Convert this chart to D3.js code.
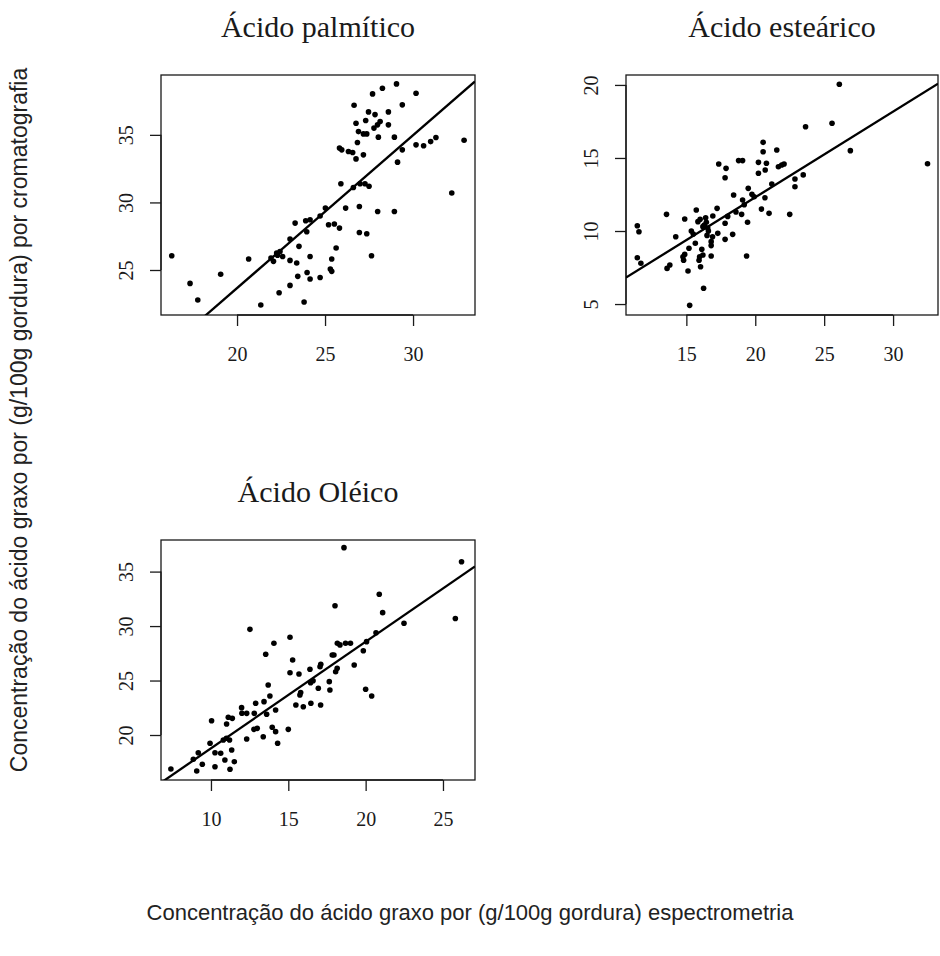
<!DOCTYPE html>
<html><head><meta charset="utf-8">
<script src="https://cdn.jsdelivr.net/npm/d3@7/dist/d3.min.js"></script>
<style>body{margin:0;background:#fff}svg{display:block}</style>
</head><body>
<script>
// ---------- data ----------
const titles = ["Ácido palmítico", "Ácido esteárico", "Ácido Oléico"];
const yLabel = "Concentração do ácido graxo por (g/100g gordura) por cromatografia";
const xLabel = "Concentração do ácido graxo por (g/100g gordura) espectrometria";

const palmiticPoints = [
 [16.29,26.06],[17.33,24.01],[17.77,22.78],[19.07,24.68],[20.66,25.81],[21.35,22.41],[22.39,23.32],
 [21.93,25.89],[22.07,25.64],[22.25,26.26],[22.44,26.37],[22.59,26.0],[22.3,26.1],[23.01,25.71],[23.01,27.29],
 [23.3,28.47],[23.39,25.52],[23.52,26.75],[23.45,24.53],[23.01,23.86],[23.81,22.63],[23.98,24.82],
 [24.15,24.33],[24.15,26.0],[23.96,27.83],[23.9,28.64],[24.15,28.72],[24.72,24.45],[24.72,29.0],
 [25.02,29.58],[25.2,28.35],[25.3,25.07],[25.38,24.9],[25.38,25.81],[25.53,28.4],[25.63,26.63],
 [25.82,28.1],[25.9,31.38],[25.82,34.02],[25.95,33.89],[26.17,29.58],[26.33,33.77],[26.57,33.69],
 [26.76,33.22],[26.65,37.19],[26.76,35.86],[26.9,35.24],[26.84,34.43],[26.95,29.7],[26.95,27.78],
 [26.99,31.38],[27.27,31.38],[27.5,31.2],[26.61,31.1],[27.18,33.52],[27.31,36.06],[27.18,35.07],[27.37,35.07],
 [27.37,27.68],[27.47,36.7],[27.64,26.06],[27.7,38.03],[27.84,36.5],[27.78,35.5],[27.98,35.74],
 [28.13,35.98],[28.03,34.83],[28.26,38.45],[27.99,29.33],[28.94,29.33],[28.6,36.7],[28.6,35.74],
 [28.94,34.83],[29.06,38.77],[29.12,32.98],[29.39,37.22],[29.39,33.89],[30.17,38.08],[30.17,34.26],
 [30.6,34.2],[31.0,34.5],[31.3,34.8],[32.2,30.7],[32.9,34.6]
];
const stearicPoints = [
 [11.44,10.36],[11.56,9.95],[11.44,8.17],[11.7,7.79],[13.56,11.14],[13.6,7.44],[13.8,7.67],[14.23,9.61],
 [14.88,10.82],[14.75,8.24],[14.88,8.4],[14.8,8.0],[15.19,8.82],[15.12,7.26],[15.24,4.91],[15.36,10.0],
 [15.5,9.8],[15.72,11.44],[15.65,9.16],[15.84,10.64],[15.96,8.24],[15.92,8.0],[16.03,7.55],[16.12,8.75],
 [16.2,8.36],[16.0,10.8],[16.2,10.3],[16.3,10.4],[16.25,6.08],[16.4,10.9],[16.5,9.7],[16.55,10.2],
 [16.6,10.0],[16.45,10.6],[16.8,9.27],[16.8,9.0],[16.9,9.6],[16.92,11.03],[16.8,8.29],[17.23,11.55],
 [17.28,9.84],[17.35,14.59],[17.81,10.53],[17.81,13.65],[17.88,14.29],[17.81,9.43],[18.0,11.0],[18.36,9.77],
 [18.43,12.47],[18.6,11.3],[18.79,14.82],[19.08,14.82],[19.01,11.14],[19.08,12.12],[19.2,11.8],[19.37,8.29],
 [19.44,10.6],[19.49,12.92],[19.76,12.51],[19.92,12.35],[20.23,14.7],[20.23,13.95],[20.45,11.5],
 [20.57,16.07],[20.57,15.43],[20.72,14.18],[20.81,14.64],[20.7,12.28],[21.0,11.21],[21.2,13.22],
 [21.56,15.55],[21.68,14.4],[21.92,14.52],[22.09,14.59],[22.5,11.14],[22.88,13.56],[22.88,13.03],
 [23.48,13.84],[23.65,17.14],[25.57,17.38],[26.1,20.05],[26.9,15.5],[32.5,14.6]
];
const oleicPoints = [
 [7.41,16.88],[9.08,16.69],[9.18,18.37],[9.44,17.31],[8.86,17.77],[10.04,21.31],[9.94,19.24],[10.26,17.09],
 [10.26,18.37],[10.63,18.32],[10.9,17.7],[11.01,21.01],[11.12,21.63],[11.38,21.53],[10.8,19.54],[11.0,19.7],
 [11.2,19.54],[11.34,18.62],[11.23,16.85],[11.51,17.55],[11.98,22.51],[12.31,21.99],[12.0,22.0],[12.31,19.63],
 [12.52,29.7],[12.8,21.99],[12.89,22.91],[12.78,20.52],[12.99,20.61],[13.38,19.84],[13.43,23.06],[13.54,27.41],
 [13.6,21.9],[13.7,24.59],[13.81,23.58],[13.96,20.71],[14.07,28.42],[14.18,22.3],[14.18,20.31],[14.31,19.24],
 [15.0,20.52],[15.11,28.97],[15.11,25.72],[15.28,26.89],[15.49,22.75],[15.69,25.6],[15.75,23.67],[15.8,23.9],
 [15.97,22.6],[16.4,26.03],[16.46,22.91],[16.44,24.8],[16.6,24.98],[16.94,24.29],[17.05,26.27],[17.1,26.5],
 [17.09,22.75],[17.65,24.9],[17.69,24.13],[17.84,27.35],[17.95,27.35],[18.02,31.87],[18.06,25.81],[18.16,26.12],
 [18.17,28.42],[18.34,28.27],[18.7,28.42],[19.02,28.42],[19.26,26.43],[19.85,27.74],[20.0,24.2],[20.06,28.57],
 [20.39,23.58],[20.67,29.39],[20.88,32.92],[21.1,31.23],[22.48,30.26],[18.6,37.2],[25.8,30.7],[26.2,35.9]
];
// fitted lines: [intercept, slope]
const palmiticFit = [1.04, 1.131];
const stearicFit  = [0.59, 0.586];
const oleicFit    = [9.0, 0.978];

const palmiticXTicks = [20,25,30], palmiticYTicks = [25,30,35];
const stearicXTicks  = [15,20,25,30], stearicYTicks = [5,10,15,20];
const oleicXTicks    = [10,15,20,25], oleicYTicks = [20,25,30,35];

const palmiticDomain = {x:[15.68,33.52], y:[21.67,39.43]};
const stearicDomain  = {x:[10.62,33.26], y:[4.25,20.68]};
const oleicDomain    = {x:[6.77,27.07], y:[15.87,37.9]};

// ---------- layout ----------
const W = 940, H = 956;
const panels = [
  {title:titles[0], pts:palmiticPoints, fit:palmiticFit, xt:palmiticXTicks, yt:palmiticYTicks, dom:palmiticDomain, box:[161,75,475,315]},
  {title:titles[1], pts:stearicPoints,  fit:stearicFit,  xt:stearicXTicks,  yt:stearicYTicks,  dom:stearicDomain,  box:[626,75,938,315]},
  {title:titles[2], pts:oleicPoints,    fit:oleicFit,    xt:oleicXTicks,    yt:oleicYTicks,    dom:oleicDomain,    box:[161,540,475,780]}
];

const svg = d3.select("body").append("svg").attr("width", W).attr("height", H);
const serif = "'Liberation Serif','Times New Roman',serif";
const sans = "'Liberation Sans',Arial,sans-serif";
const ink = "#1a1a1a";

panels.forEach((p, i) => {
  const [x0,y0,x1,y1] = p.box;
  const x = d3.scaleLinear().domain(p.dom.x).range([x0,x1]);
  const y = d3.scaleLinear().domain(p.dom.y).range([y1,y0]);
  const g = svg.append("g");

  const clipId = "clip"+i;
  g.append("clipPath").attr("id", clipId).append("rect")
    .attr("x", x0).attr("y", y0).attr("width", x1-x0).attr("height", y1-y0);

  // axes (R style: axis line spans ticks only)
  const xa = d3.axisBottom(x).tickValues(p.xt).tickSize(11).tickPadding(21).tickFormat(d3.format("d"));
  const gx = g.append("g").attr("transform", `translate(0,${y1})`).call(xa);
  gx.select(".domain").attr("d", `M${x(p.xt[0])},0H${x(p.xt[p.xt.length-1])}`);
  const ya = d3.axisLeft(y).tickValues(p.yt).tickSize(11).tickPadding(10).tickFormat(d3.format("d"));
  const gy = g.append("g").attr("transform", `translate(${x0},0)`).call(ya);
  gy.select(".domain").attr("d", `M0,${y(p.yt[0])}V${y(p.yt[p.yt.length-1])}`);
  [gx, gy].forEach(a => {
    a.selectAll(".domain, .tick line").attr("stroke", ink).attr("stroke-width", 1.3);
    a.selectAll("text").attr("font-family", serif).attr("font-size", 20).attr("fill", ink);
  });
  gy.selectAll("text").attr("text-anchor", "middle").attr("dy", 0)
    .attr("x", 0).attr("y", 0)
    .attr("transform", "translate(-28,0) rotate(-90)");

  // box
  g.append("rect").attr("x", x0).attr("y", y0).attr("width", x1-x0).attr("height", y1-y0)
    .attr("fill", "none").attr("stroke", ink).attr("stroke-width", 1.3);

  // fitted line
  const [a, b] = p.fit;
  g.append("line").attr("clip-path", `url(#${clipId})`)
    .attr("x1", x(p.dom.x[0])).attr("y1", y(a + b*p.dom.x[0]))
    .attr("x2", x(p.dom.x[1])).attr("y2", y(a + b*p.dom.x[1]))
    .attr("stroke", "#000").attr("stroke-width", 2.3);

  // points
  g.append("g").selectAll("circle").data(p.pts).join("circle")
    .attr("cx", d => x(d[0])).attr("cy", d => y(d[1])).attr("r", 2.8).attr("fill", "#000");

  // title
  g.append("text").attr("x", (x0+x1)/2).attr("y", y0-38).attr("text-anchor", "middle")
    .attr("font-family", serif).attr("font-size", 30).attr("fill", ink).text(p.title);
});

svg.append("text").attr("transform", "translate(27,420) rotate(-90)").attr("text-anchor", "middle")
  .attr("font-family", sans).attr("font-size", 23).attr("fill", "#222").text(yLabel);
svg.append("text").attr("x", 470).attr("y", 920).attr("text-anchor", "middle")
  .attr("font-family", sans).attr("font-size", 22).attr("fill", "#222").text(xLabel);
</script>
</body></html>
